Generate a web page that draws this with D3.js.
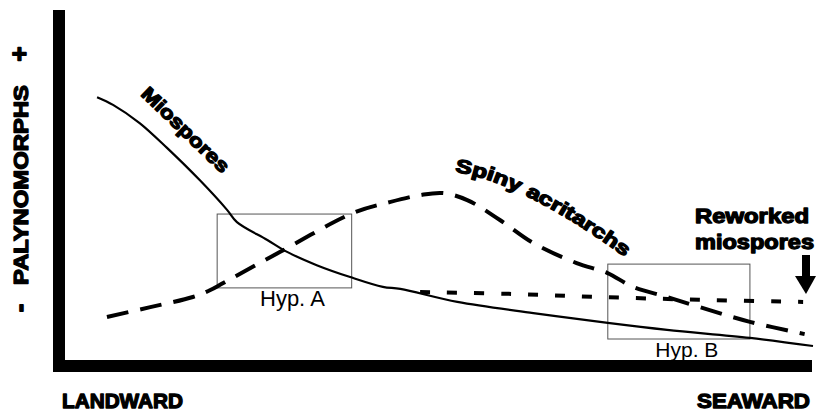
<!DOCTYPE html>
<html lang="en">
<head>
<meta charset="UTF-8">
<title>Palynomorphs</title>
<script src="https://cdn.jsdelivr.net/npm/d3@7"></script>
<style>
  body { margin: 0; background: #fff; }
  text { font-family: "Liberation Sans", Arial, sans-serif; }
</style>
</head>
<body>
<div id="myDiv"></div>
<script>
    // x: 0 = landward, 100 = seaward ; y: relative abundance 0..100
    const miospores = [
        [5.8, 75.1], [7.9, 72.9], [11.4, 67.7], [15.0, 60.6], [19.3, 51.4],
        [22.9, 42.9], [24.2, 39.4], [28.2, 34.3], [30.8, 30.9], [34.7, 27.1],
        [39.1, 23.7], [43.4, 20.9], [45.7, 20.3], [53.2, 16.6], [63.2, 13.4],
        [73.0, 10.6], [80.8, 8.6], [91.7, 6.3], [100, 4.0]
    ];
    const spinyAcritarchs = [
        [7.1, 12.3], [12.8, 15.1], [18.4, 18.0], [20.7, 20.0], [22.4, 22.0],
        [29.9, 30.9], [39.5, 42.0], [44.3, 45.1], [48.3, 47.1], [51.3, 47.7],
        [54.5, 45.7], [58.8, 40.0], [63.2, 33.4], [68.9, 27.7], [72.9, 24.9],
        [76.3, 20.9], [80.8, 18.0], [85.1, 15.1], [91.7, 10.9], [98.9, 7.4]
    ];
    const reworked = [
        [48.3, 19.4], [60, 18.9], [72, 18.0], [85, 17.2], [98.7, 16.6]
    ];
    const hypBoxes = [
        {name: "Hyp. A", x0: 21.6, x1: 39.3, y0: 20.6, y1: 41.7, size: 22, dx: 8},
        {name: "Hyp. B", x0: 73.0, x1: 91.7, y0: 6.0, y1: 27.4, size: 21, dx: 8}
    ];

    const W = 816, H = 413;
    const x = d3.scaleLinear().domain([0, 100]).range([53, 813]);
    const y = d3.scaleLinear().domain([0, 100]).range([360, 10]);

    const svg = d3.select("#myDiv").append("svg")
        .attr("width", W).attr("height", H);

    const line = d3.line()
        .x(function(d) { return x(d[0]); })
        .y(function(d) { return y(d[1]); })
        .curve(d3.curveCatmullRom);

    // heavy label helper (fake "black" weight by stretching + stroking)
    function heavy(sel, size, len) {
        sel.attr("font-size", size).attr("font-weight", "bold")
            .attr("stroke", "#000").attr("stroke-width", 1.3)
            .attr("stroke-linejoin", "round");
        if (len) sel.attr("textLength", len).attr("lengthAdjust", "spacingAndGlyphs");
        return sel;
    }

    // hypothesis boxes
    hypBoxes.forEach(function(b) {
        svg.append("rect")
            .attr("x", x(b.x0)).attr("y", y(b.y1))
            .attr("width", x(b.x1) - x(b.x0))
            .attr("height", y(b.y0) - y(b.y1))
            .attr("fill", "none").attr("stroke", "#555").attr("stroke-width", 1);
        svg.append("text")
            .attr("x", (x(b.x0) + x(b.x1)) / 2 + b.dx)
            .attr("y", y(b.y0) + 18)
            .attr("text-anchor", "middle")
            .attr("font-size", b.size)
            .text(b.name);
    });

    // curves
    svg.append("path").datum(miospores)
        .attr("d", line).attr("fill", "none")
        .attr("stroke", "#000").attr("stroke-width", 2.2);
    svg.append("path").datum(spinyAcritarchs)
        .attr("d", line).attr("fill", "none")
        .attr("stroke", "#000").attr("stroke-width", 4)
        .attr("stroke-dasharray", "22,12");
    svg.append("path").datum(reworked)
        .attr("d", line).attr("fill", "none")
        .attr("stroke", "#000").attr("stroke-width", 4)
        .attr("stroke-dasharray", "10,17");

    // axes (thick frame)
    svg.append("line")
        .attr("x1", x(0) + 6).attr("x2", x(0) + 6)
        .attr("y1", y(100)).attr("y2", y(0) + 12)
        .attr("stroke", "#000").attr("stroke-width", 12);
    svg.append("line")
        .attr("x1", x(0)).attr("x2", x(100) - 1)
        .attr("y1", y(0) + 6).attr("y2", y(0) + 6)
        .attr("stroke", "#000").attr("stroke-width", 12);

    // curve labels
    heavy(svg.append("text")
        .attr("transform", "translate(140,95) rotate(44)"), 19, 114)
        .text("Miospores");

    svg.append("path").attr("id", "spinyPath")
        .attr("d", "M455,172 Q522,181 633,263")
        .attr("fill", "none");
    heavy(svg.append("text"), 19)
        .append("textPath").attr("href", "#spinyPath")
        .attr("textLength", 192).attr("lengthAdjust", "spacingAndGlyphs")
        .text("Spiny acritarchs");

    heavy(svg.append("text")
        .attr("x", 695).attr("y", 223), 20, 114)
        .text("Reworked");
    heavy(svg.append("text")
        .attr("x", 695).attr("y", 249), 20, 119)
        .text("miospores");

    // arrow to reworked curve
    svg.append("line")
        .attr("x1", 806).attr("x2", 806).attr("y1", 255).attr("y2", 278)
        .attr("stroke", "#000").attr("stroke-width", 8);
    svg.append("path")
        .attr("d", "M795,276 L816,276 L806,294 Z").attr("fill", "#000");

    // axis labels
    heavy(svg.append("text")
        .attr("x", 62).attr("y", 408), 21, 121)
        .text("LANDWARD");
    heavy(svg.append("text")
        .attr("x", 697).attr("y", 408), 21, 113)
        .text("SEAWARD");

    const yl = svg.append("g").attr("transform", "translate(28,0) rotate(-90)");
    heavy(yl.append("text").attr("x", -285).attr("y", 0), 21, 200)
        .text("PALYNOMORPHS");
    heavy(yl.append("text").attr("x", -54).attr("y", 0).attr("text-anchor", "middle"), 26)
        .attr("stroke-width", 1.5)
        .text("+");
    heavy(yl.append("text").attr("x", -308).attr("y", 0).attr("text-anchor", "middle"), 26)
        .attr("stroke-width", 1.5)
        .text("-");
</script>
</body>
</html>
